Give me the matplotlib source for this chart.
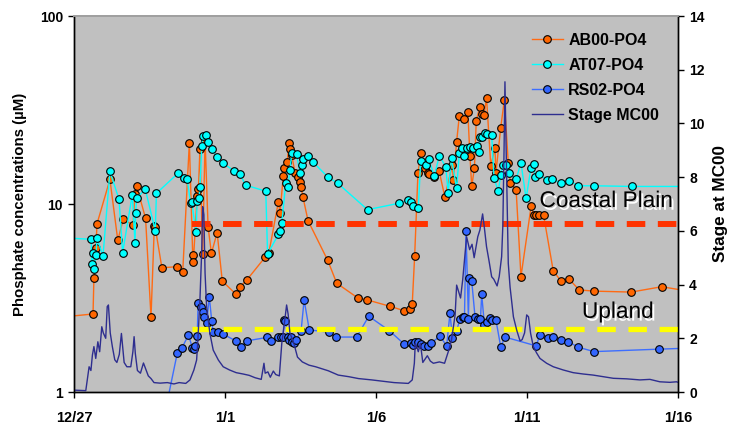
import matplotlib
matplotlib.use("Agg")
import matplotlib.pyplot as plt
import matplotlib.patheffects as pe
from matplotlib.ticker import FixedLocator, FixedFormatter, NullLocator

plt.rcParams['font.family'] = ['Liberation Sans', 'DejaVu Sans']
plt.rcParams['font.weight'] = 'bold'
plt.rcParams['axes.labelweight'] = 'bold'

# time axis: days since 12/27
date_ticks = [0, 5, 10, 15, 20]
date_labels = ['12/27', '1/1', '1/6', '1/11', '1/16']

# AB00 phosphate (uM)
ab00_day = [-1.0, 0.63, 0.66, 0.73, 0.76, 1.19, 1.45, 1.63, 1.96, 2.01, 2.07, 2.37, 2.55, 2.66,
            2.69, 2.91, 3.42, 3.60, 3.82, 3.93, 3.95, 4.08, 4.12, 4.17, 4.26, 4.34, 4.44, 4.55,
            4.74, 4.91, 5.35, 5.50, 5.72, 6.34, 6.45, 6.77, 6.82, 6.93, 6.97, 7.06, 7.12, 7.15,
            7.21, 7.32, 7.43, 7.48, 7.52, 7.58, 7.75, 8.40, 8.70, 9.39, 9.71, 10.45, 10.92, 11.14,
            11.20, 11.28, 11.39, 11.49, 11.62, 11.73, 11.77, 11.92, 12.09, 12.28, 12.53, 12.56,
            12.67, 12.76, 12.91, 13.04, 13.11, 13.17, 13.26, 13.32, 13.44, 13.51, 13.58, 13.66,
            13.80, 13.94, 13.97, 14.13, 14.25, 14.38, 14.45, 14.64, 14.80, 15.14, 15.22, 15.30,
            15.40, 15.55, 15.87, 16.13, 16.39, 16.73, 17.22, 18.45, 19.46, 20.3]
ab00_po4 = [2.45, 2.60, 4.06, 5.83, 7.83, 13.5, 6.41, 8.29, 7.73, 11.3, 12.5, 8.4, 2.50, 7.64,
            7.5, 4.58, 4.64, 4.35, 21.2, 5.35, 4.93, 11.0, 12.0, 19.6, 5.4, 21.9, 7.55, 5.47,
            7.04, 3.89, 3.33, 3.63, 3.94, 5.24, 5.47, 10.3, 8.92, 14.1, 15.5, 16.8, 21.2, 19.5,
            18.2, 14.6, 14.0, 13.1, 12.3, 10.9, 8.15, 5.02, 3.79, 3.17, 3.09, 2.86, 2.71, 2.75,
            2.94, 5.29, 14.7, 18.6, 15.5, 14.6, 14.4, 14.0, 15.0, 10.9, 16.2, 13.4,
            21.5, 29.5, 28.3, 31.0, 18.0, 12.4, 15.6, 27.8, 32.9, 30.0, 29.7, 36.8,
            16.0, 19.8, 14.6, 25.5, 35.7, 16.5, 13.0, 11.9, 4.11, 9.8, 8.7, 8.7,
            8.7, 8.7, 4.4, 3.89, 3.99, 3.49, 3.44, 3.40, 3.63, 3.45]

# AT07 phosphate (uM)
at07_day = [-1.5, 0.57, 0.58, 0.62, 0.66, 0.73, 0.76, 0.96, 1.19, 1.49, 1.61, 1.93, 2.02, 2.04,
            2.07, 2.36, 2.69, 2.73, 3.45, 3.64, 3.75, 3.86, 3.90, 4.04, 4.08, 4.14, 4.17, 4.23,
            4.28, 4.37, 4.45, 4.56, 4.75, 4.92, 5.31, 5.50, 5.68, 6.35, 6.41, 6.77, 6.82, 6.88,
            7.01, 7.08, 7.15, 7.21, 7.37, 7.48, 7.54, 7.59, 7.76, 7.90, 8.41, 8.73, 9.72, 10.77,
            11.07, 11.16, 11.24, 11.40, 11.48, 11.65, 11.75, 11.93, 12.10, 12.31, 12.39, 12.50,
            12.67, 12.76, 12.84, 12.92, 13.00, 13.11, 13.22, 13.33, 13.42, 13.44, 13.52, 13.61,
            13.69, 13.83, 13.91, 14.05, 14.13, 14.19, 14.30, 14.41, 14.64, 14.80, 14.97, 15.13,
            15.24, 15.26, 15.41, 15.65, 15.84, 16.13, 16.40, 16.70, 17.22, 18.48, 20.3]
at07_po4 = [6.75, 6.49, 4.78, 5.47, 4.51, 5.35, 6.58, 5.30, 14.9, 10.6, 5.51, 11.2, 6.22, 8.92,
            10.7, 12.0, 7.21, 11.4, 14.6, 13.8, 13.5, 10.1, 10.2, 7.12, 10.4, 10.8, 12.3, 20.3,
            23.0, 23.3, 21.4, 19.5, 17.7, 16.5, 15.0, 14.4, 12.6, 11.7, 5.42, 6.90, 7.21, 7.89,
            12.9, 12.3, 15.2, 18.6, 18.4, 14.6, 16.1, 17.3, 18.0, 16.8, 13.9, 12.9, 9.33, 10.1,
            10.5, 10.2, 9.75, 9.49, 17.0, 16.1, 17.3, 14.1, 18.1, 15.7, 11.5, 17.5,
            12.1, 18.7, 19.8, 18.0, 19.8, 20.2, 19.8, 20.3, 19.0, 22.6, 22.6, 23.9,
            23.5, 23.3, 13.7, 11.7, 14.3, 16.1, 16.1, 14.7, 13.5, 16.6, 10.7, 15.5,
            16.3, 14.0, 14.4, 13.4, 13.6, 12.9, 13.3, 12.5, 12.5, 12.4, 12.4]

# RS02 phosphate (uM)
rs02_day = [1.63, 3.42, 3.57, 3.79, 3.92, 3.97, 4.00, 4.08, 4.11, 4.19, 4.26, 4.32, 4.39, 4.48,
            4.56, 4.61, 4.78, 4.94, 5.36, 5.53, 5.72, 6.38, 6.51, 6.77, 6.84, 6.92, 6.96, 7.00,
            7.08, 7.12, 7.17, 7.22, 7.30, 7.36, 7.52, 7.62, 7.79, 8.43, 8.68, 9.36, 9.76, 10.44,
            10.93, 11.15, 11.22, 11.30, 11.40, 11.48, 11.58, 11.72, 11.82, 12.12, 12.34, 12.45,
            12.53, 12.67, 12.78, 12.87, 12.93, 12.98, 13.06, 13.09, 13.17, 13.28, 13.39, 13.46,
            13.50, 13.59, 13.66, 13.77, 13.83, 13.97, 14.13, 14.27, 15.30, 15.43, 15.68, 15.87,
            16.12, 16.37, 16.70, 17.22, 19.37, 20.3]
rs02_po4 = [0.066, 1.61, 1.71, 2.01, 1.72, 1.70, 1.75, 1.99, 2.99, 2.82, 2.65, 2.5, 2.32, 3.21,
            2.39, 2.09, 2.09, 2.03, 1.87, 1.74, 1.87, 1.95, 1.87, 1.97, 1.95, 1.97, 2.42, 2.38,
            1.95, 1.90, 1.95, 1.85, 1.82, 1.88, 2.12, 3.09, 2.14, 2.08, 1.96, 1.96, 2.53, 2.12,
            1.80, 1.82, 1.78, 1.85, 1.84, 1.80, 1.76, 1.76, 1.82, 1.98, 1.76, 2.63,
            1.93, 2.12, 2.44, 2.52, 2.50, 7.21, 2.46, 4.06, 3.89, 2.50, 2.46, 2.46,
            3.31, 2.27, 2.35, 2.48, 2.42, 2.42, 1.74, 1.96, 1.76, 2.01, 1.93, 1.97,
            1.89, 1.85, 1.73, 1.64, 1.69, 1.71]

# stage at MC00
stage_day = [0.0, 0.39, 0.50, 0.56, 0.61, 0.66, 0.72, 0.79, 0.85, 0.92, 0.97, 1.05, 1.10, 1.14,
             1.20, 1.27, 1.35, 1.42, 1.50, 1.57, 1.62, 1.66, 1.75, 1.88, 1.95, 1.99, 2.03, 2.10,
             2.20, 2.30, 2.36, 2.46, 2.55, 2.65, 2.85, 3.09, 3.31, 3.48, 3.70, 3.84, 3.97, 4.06,
             4.10, 4.17, 4.23, 4.26, 4.30, 4.34, 4.39, 4.50, 4.61, 4.78, 4.94, 5.15, 5.37, 5.60,
             5.80, 6.00, 6.20, 6.29, 6.33, 6.42, 6.50, 6.60, 6.68, 6.80, 6.88, 6.95, 7.04, 7.09,
             7.15, 7.28, 7.40, 7.56, 7.78, 8.00, 8.42, 8.75, 9.10, 9.42, 9.86, 10.30, 10.60, 11.07,
             11.20, 11.27, 11.30, 11.35, 11.40, 11.47, 11.55, 11.70, 11.80, 11.90, 12.10, 12.27,
             12.43, 12.50, 12.62, 12.67, 12.80, 12.87, 12.95, 13.00, 13.10, 13.18, 13.25, 13.37,
             13.44, 13.53, 13.58, 13.66, 13.74, 13.83, 13.90, 14.01, 14.08, 14.16, 14.20, 14.24,
             14.27, 14.31, 14.38, 14.44, 14.55, 14.66, 14.77, 14.84, 14.92, 14.99, 15.05, 15.12,
             15.21, 15.32, 15.43, 15.65, 15.87, 16.20, 16.53, 16.86, 17.19, 17.53, 17.86, 18.30,
             18.74, 19.07, 19.40, 19.73, 19.95, 20.0]
stage_m = [0.07, 0.05, 0.94, 0.8, 1.38, 1.69, 1.25, 1.87, 1.5, 2.43, 2.2, 2.0, 3.18, 3.24,
           2.2, 1.69, 1.2, 1.1, 1.4, 2.18, 1.6, 1.1, 0.94, 0.94, 1.5, 2.06, 1.44, 0.8,
           0.70, 1.08, 0.9, 0.6, 0.5, 0.35, 0.33, 0.35, 0.30, 0.35, 0.32, 0.45, 0.82, 1.19,
           1.9, 3.43, 5.29, 6.9, 6.6, 4.42, 3.18, 2.18, 1.56, 1.19, 0.94, 0.82, 0.72, 0.67,
           0.62, 0.53, 0.47, 1.07, 0.7, 0.75, 0.55, 0.78, 0.65, 0.6, 1.81, 2.4, 3.24, 2.9,
           2.2, 1.81, 1.3, 1.12, 1.0, 0.94, 0.79, 0.63, 0.57, 0.50, 0.45, 0.39, 0.35, 0.32,
           0.45, 1.07, 1.81, 1.69, 1.5, 1.81, 1.1, 1.35, 1.15, 1.07, 1.12, 1.07,
           1.63, 1.94, 2.87, 3.98, 3.5, 4.17, 5.16, 5.78, 5.3, 5.5, 5.0, 5.78,
           6.03, 6.63, 6.2, 5.41, 4.9, 4.29, 4.2, 3.95, 4.3, 5.04, 6.2, 9.0,
           11.55, 9.0, 4.79, 3.9, 2.8, 2.3, 1.9, 1.95, 2.2, 2.87, 2.8, 2.18,
           1.69, 1.45, 1.25, 1.07, 0.94, 0.82, 0.72, 0.67, 0.63, 0.57, 0.51, 0.49,
           0.45, 0.47, 0.38, 0.36, 0.38, 0.36]

# reference levels (uM) and where they start
coastal_plain_level = 7.86
upland_level = 2.16
level_start_day = 3.9

fig = plt.figure(figsize=(7.36, 4.25), dpi=100)
ax = fig.add_axes([74 / 736, 1 - 392 / 425, 604 / 736, 376 / 425])
ax.set_facecolor('#C0C0C0')

mk = dict(marker='o', markersize=5.5, markeredgecolor='black', markeredgewidth=0.8, lw=1.0)
l_ab, = ax.plot(ab00_day, ab00_po4, color='#FF6A13', markerfacecolor='#FF6600', label='AB00-PO4', **mk)
l_at, = ax.plot(at07_day, at07_po4, color='#00FFFF', markerfacecolor='#00FFFF', label='AT07-PO4', **mk)
l_rs, = ax.plot(rs02_day, rs02_po4, color='#3D6EFF', markerfacecolor='#3366FF', label='RS02-PO4', **mk)

ax.plot([level_start_day, 20], [coastal_plain_level] * 2, color='#FF3300', lw=4.3,
        linestyle=(0, (3.1, 2.1)), dash_capstyle='butt', zorder=4)
ax.plot([level_start_day, 20], [upland_level] * 2, color='#FFFF00', lw=3.8,
        linestyle=(0, (3.5, 2.4)), dash_capstyle='butt', zorder=4)

shadow = [pe.SimplePatchShadow(offset=(1.5, -2), shadow_rgbFace='white', alpha=1.0), pe.Normal()]
ax.text(19.83, 9.64, 'Coastal Plain', fontsize=16.3, fontweight='normal', ha='right',
        va='baseline', path_effects=shadow, zorder=6)
ax.text(19.2, 2.48, 'Upland', fontsize=16.3, fontweight='normal', ha='right',
        va='baseline', path_effects=shadow, zorder=6)

ax.set_yscale('log')
ax.set_ylim(1, 100)
ax.set_xlim(0, 20)
ax.yaxis.set_major_locator(FixedLocator([1, 10, 100]))
ax.yaxis.set_major_formatter(FixedFormatter(['1', '10', '100']))
ax.yaxis.set_minor_locator(NullLocator())
ax.xaxis.set_major_locator(FixedLocator(date_ticks))
ax.xaxis.set_major_formatter(FixedFormatter(date_labels))
ax.tick_params(axis='x', direction='out', length=4, width=1, pad=9.5, labelsize=10.5)
ax.tick_params(axis='y', direction='out', length=4, width=1, pad=4, labelsize=10)
ax.set_ylabel('Phosphate concentrations (\u00b5M)', fontsize=10.8, fontweight='bold')
ax.yaxis.set_label_coords(-0.078, 0.5)

ax2 = ax.twinx()
l_st, = ax2.plot(stage_day, stage_m, color='#2E2E8F', lw=1.0, label='Stage MC00')
ax2.set_ylim(0, 14)
ax2.set_yticks(range(0, 15, 2))
ax2.tick_params(axis='y', direction='out', length=4, width=1, pad=4, labelsize=10)
ax2.set_ylabel('Stage at MC00', fontsize=12.3, fontweight='bold')
ax2.yaxis.set_label_coords(1.058, 0.5)

for a in (ax, ax2):
    a.spines['top'].set_color('#A0A0A0')
    a.spines['top'].set_linewidth(1.3)
    for side in ('left', 'bottom', 'right'):
        a.spines[side].set_linewidth(1.0)

ax2.legend(handles=[l_ab, l_at, l_rs, l_st], loc='upper right', bbox_to_anchor=(667 / 736, 1 - 25 / 425),
           bbox_transform=fig.transFigure, frameon=False, prop={'size': 11.5, 'weight': 'bold'},
           borderpad=0, handlelength=1.9, handletextpad=0.35, labelspacing=0.62)

fig.savefig('out.png', dpi=100)
